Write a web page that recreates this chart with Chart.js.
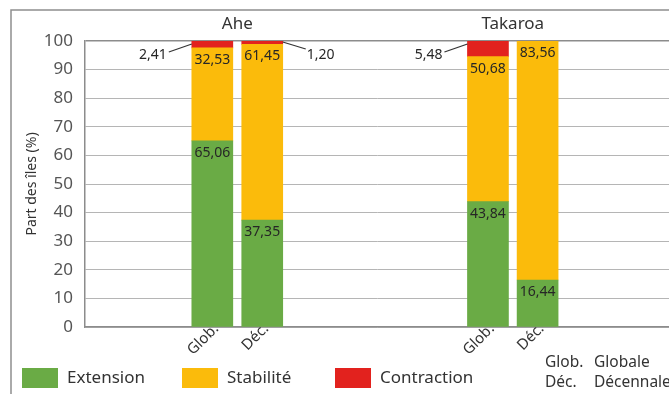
<!DOCTYPE html>
<html lang="fr">
<head>
<meta charset="UTF-8">
<title>Part des îles</title>
<script src="https://cdn.jsdelivr.net/npm/chart.js@4.4.0/dist/chart.umd.min.js"></script>
<style>
  html, body { margin: 0; padding: 0; background: #fff; }
</style>
</head>
<body>
<canvas id="myChart" width="669" height="394"></canvas>
<script>
// données
const atolls = ['Ahe', 'Takaroa']
const barLabels = ['Glob.', 'Déc.', 'Glob.', 'Déc.']
const barAtoll = [0, 0, 1, 1]
const extension = [65.06, 37.35, 43.84, 16.44]
const stabilite = [32.53, 61.45, 50.68, 83.56]
const contraction = [2.41, 1.20, 5.48, 0]
const seriesNames = ['Extension', 'Stabilité', 'Contraction']
const yTicks = [0, 10, 20, 30, 40, 50, 60, 70, 80, 90, 100]
const notes = [['Glob.', 'Globale'], ['Déc.', 'Décennale']]

// mise en page
const barX = [21.8, 30.35, 69.0, 77.5]          // place des barres sur l'axe (0-100)
const leaderSide = ['left', 'right', 'left', null]
const legendX = [22, 182, 335]
const colors = ['#6aab45', '#fbbb0b', '#e2221e']
const family = '"Noto Sans", "Open Sans", sans-serif'

const series = [extension, stabilite, contraction]
const fmt = v => v.toFixed(2).replace('.', ',')

const decor = {
  id: 'decor',
  beforeDraw(chart) {
    const c = chart.ctx
    c.save()
    c.fillStyle = '#fff'
    c.fillRect(0, 0, chart.width, chart.height)
    // cadre
    c.strokeStyle = '#8f8f8f'
    c.lineWidth = 1.5
    c.beginPath()
    c.moveTo(11, chart.height)
    c.lineTo(11, 10)
    c.lineTo(chart.width, 10)
    c.stroke()
    c.restore()
  },
  afterDatasetsDraw(chart) {
    const c = chart.ctx
    c.save()
    c.font = '14px ' + family
    c.fillStyle = '#262626'
    c.textBaseline = 'middle'
    // valeurs dans les barres
    for (let s = 0; s < 2; s++) {
      chart.getDatasetMeta(s).data.forEach((el, i) => {
        c.textAlign = 'center'
        c.fillText(fmt(series[s][i]), el.x, el.y + 12)
      })
    }
    // contraction avec trait de rappel
    c.strokeStyle = '#333'
    c.lineWidth = 1.2
    chart.getDatasetMeta(2).data.forEach((el, i) => {
      const side = leaderSide[i]
      if (!side || !contraction[i]) return
      const top = el.y
      c.beginPath()
      if (side === 'left') {
        const bx = el.x - el.width / 2
        c.moveTo(bx, top + 3)
        c.lineTo(bx - 23, top + 11)
        c.stroke()
        c.textAlign = 'right'
        c.fillText(fmt(contraction[i]), bx - 25, top + 14)
      } else {
        const bx = el.x + el.width / 2
        c.moveTo(bx, top + 1)
        c.lineTo(bx + 23, top + 8)
        c.stroke()
        c.textAlign = 'left'
        c.fillText(fmt(contraction[i]), bx + 24, top + 14)
      }
    })
    c.restore()
  },
  afterDraw(chart) {
    const c = chart.ctx
    const xs = chart.scales.x
    c.save()
    c.fillStyle = '#333'
    c.textBaseline = 'middle'
    // noms des atolls
    c.font = '17px ' + family
    c.textAlign = 'center'
    atolls.forEach((name, a) => {
      const px = barX.filter((v, i) => barAtoll[i] === a).map(v => xs.getPixelForValue(v))
      c.fillText(name, (px[0] + px[px.length - 1]) / 2, 24)
    })
    // légende
    c.textAlign = 'left'
    seriesNames.forEach((name, s) => {
      const x = legendX[s]
      c.fillStyle = colors[s]
      c.fillRect(x, 368, 36, 20)
      c.fillStyle = '#333'
      c.fillText(name, x + 45, 378)
    })
    // abréviations
    c.font = '15.5px ' + family
    notes.forEach((n, k) => {
      c.fillText(n[0], 545, 363 + k * 20)
      c.fillText(n[1], 594, 363 + k * 20)
    })
    c.restore()
  }
}

const ctx = document.getElementById('myChart').getContext('2d')
const myChart = new Chart(ctx, {
  type: 'bar',
  data: {
    datasets: series.map((vals, s) => ({
      label: seriesNames[s],
      data: vals.map((v, i) => ({ x: barX[i], y: v })),
      backgroundColor: colors[s],
      borderWidth: 0,
      barThickness: 41
    }))
  },
  options: {
    responsive: false,
    animation: false,
    devicePixelRatio: 1,
    layout: { padding: { top: 41, left: 0, right: 0, bottom: 0 } },
    plugins: { legend: { display: false }, tooltip: { enabled: false } },
    scales: {
      x: {
        type: 'linear', min: 0, max: 100, stacked: true, offset: false,
        grid: { display: false, drawTicks: false },
        border: { display: true, color: '#8c8c8c', width: 1.5 },
        afterBuildTicks: s => { s.ticks = barX.map(v => ({ value: v })) },
        ticks: {
          autoSkip: false, minRotation: 45, maxRotation: 45, padding: -7, labelOffset: 4,
          color: '#333', font: { family, size: 15 },
          callback: (v, i) => barLabels[i]
        },
        afterFit: s => { s.height = 67 }
      },
      y: {
        stacked: true, min: 0, max: 100,
        afterBuildTicks: s => { s.ticks = yTicks.map(v => ({ value: v })) },
        grid: {
          drawTicks: false,
          color: c => (c.tick && c.tick.value === 100) ? '#8c8c8c' : '#b5b5b5',
          lineWidth: c => (c.tick && c.tick.value === 100) ? 1.5 : 1
        },
        border: { display: true, color: '#8c8c8c', width: 1.5 },
        ticks: { padding: 12, color: '#555', font: { family, size: 17 } },
        title: {
          display: true, text: 'Part des îles (%)', color: '#333',
          font: { family, size: 14 }, padding: { top: 24, bottom: 0 }
        },
        afterFit: s => { s.width = 85 }
      }
    }
  },
  plugins: [decor]
})
</script>
</body>
</html>
